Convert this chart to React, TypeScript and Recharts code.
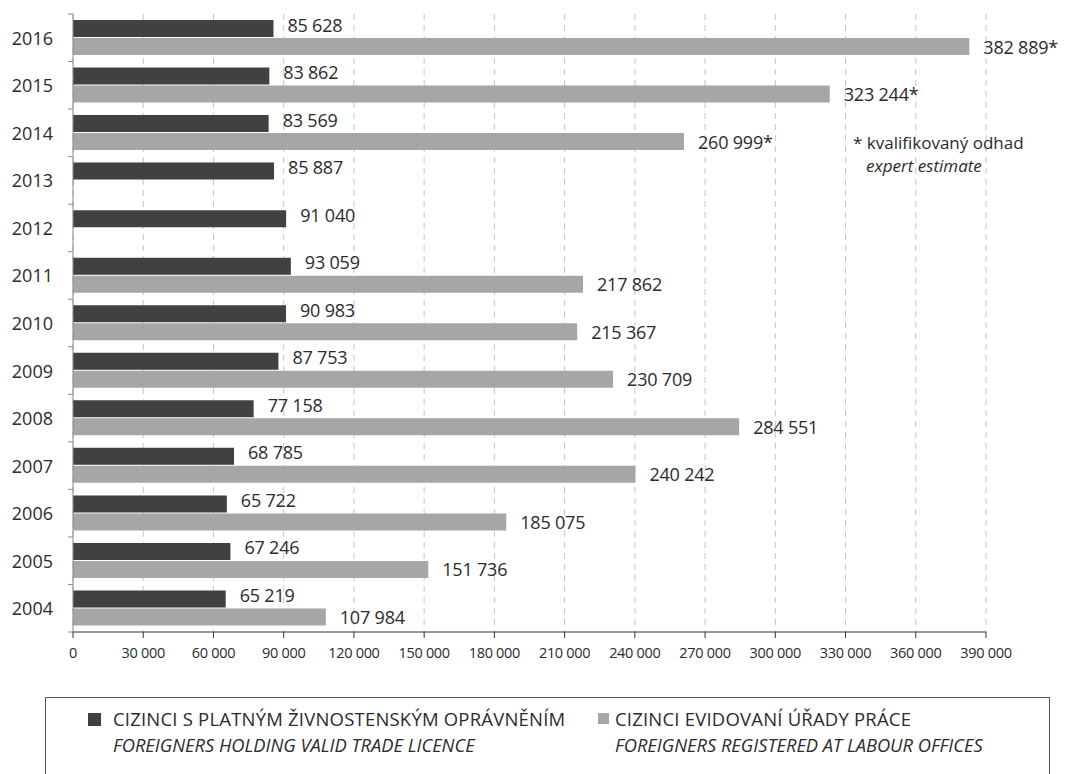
import { BarChart, Bar, XAxis, YAxis, CartesianGrid } from 'recharts'

const years = ['2016', '2015', '2014', '2013', '2012', '2011', '2010', '2009', '2008', '2007', '2006', '2005', '2004']
const tradeLicence = [85628, 83862, 83569, 85887, 91040, 93059, 90983, 87753, 77158, 68785, 65722, 67246, 65219]
const labourOffices = [382889, 323244, 260999, null, null, 217862, 215367, 230709, 284551, 240242, 185075, 151736, 107984]
const estimated = ['2016', '2015', '2014']
const xTicks = [0, 30000, 60000, 90000, 120000, 150000, 180000, 210000, 240000, 270000, 300000, 330000, 360000, 390000]

const DARK = '#414143'
const LIGHT = '#a6a6a8'
const FONT = '"Open Sans", Lato, sans-serif'
const TEXT = '#2b2b2b'

const CHART_W = 1066
const CHART_H = 774
const MARGIN = { top: 14, right: 80, bottom: 102, left: 0 }
const X_AXIS_H = 40
const HALF_BAND = (CHART_H - MARGIN.top - MARGIN.bottom - X_AXIS_H) / years.length / 2

const data = years.map((y, i) => ({
  year: y,
  trade: tradeLicence[i],
  labour: labourOffices[i],
}))

const fmt = (v: number) => (v === 0 ? '0' : v.toLocaleString('en-US').replace(/,/g, ' '))

function makeLabel(dy: number, star: boolean) {
  return (props: any) => {
    const { x, y, width, height, value, index } = props
    if (value == null) return null
    const suffix = star && estimated.includes(years[index]) ? '*' : ''
    return (
      <text
        x={x + width + 14}
        y={y + height / 2 + dy}
        fill={TEXT}
        fontSize={18}
        fontFamily={FONT}
        dominantBaseline="central"
        letterSpacing={-0.2}
      >
        {fmt(value) + suffix}
      </text>
    )
  }
}

// year label plus small tick marks on the band edges, as in the source
function YearTick(props: any) {
  const { x, y, payload, index } = props
  const axisX = x + 20
  return (
    <g>
      <line x1={axisX - 5} x2={axisX} y1={y - HALF_BAND} y2={y - HALF_BAND} stroke="#888" />
      {index === years.length - 1 && (
        <line x1={axisX - 5} x2={axisX} y1={y + HALF_BAND} y2={y + HALF_BAND} stroke="#888" />
      )}
      <text x={x} y={y} textAnchor="end" dominantBaseline="central" fontSize={18} fill={TEXT} fontFamily={FONT}>
        {payload.value}
      </text>
    </g>
  )
}

function LegendBox() {
  const item = (color: string, cz: string, en: string, left: number, square: number, gap: number) => (
    <div style={{ position: 'absolute', left, top: 12 }}>
      <div style={{ position: 'absolute', left: 0, top: 3, width: square, height: square, background: color }} />
      <div style={{ position: 'absolute', left: gap, top: -2, whiteSpace: 'nowrap', fontSize: 18.5, lineHeight: '22px', color: TEXT, letterSpacing: 0.2 }}>{cz}</div>
      <div style={{ position: 'absolute', left: gap, top: 24, whiteSpace: 'nowrap', fontSize: 18.3, lineHeight: '22px', fontStyle: 'italic', color: TEXT }}>{en}</div>
    </div>
  )
  return (
    <div
      style={{
        position: 'absolute',
        left: 45,
        top: 697,
        width: 1005,
        height: 90,
        border: '1.5px solid #555',
        fontFamily: FONT,
        boxSizing: 'border-box',
      }}
    >
      {item(DARK, 'CIZINCI S PLATNÝM ŽIVNOSTENSKÝM OPRÁVNĚNÍM', 'FOREIGNERS HOLDING VALID TRADE LICENCE', 42, 13, 25)}
      {item(LIGHT, 'CIZINCI EVIDOVANÍ ÚŘADY PRÁCE', 'FOREIGNERS REGISTERED AT LABOUR OFFICES', 552, 11, 17)}
    </div>
  )
}

export default function App() {
  return (
    <div style={{ position: 'relative', width: CHART_W, height: CHART_H, background: '#fff', overflow: 'hidden' }}>
      <style>{'body{margin:0}'}</style>
      <BarChart
        width={CHART_W}
        height={CHART_H}
        data={data}
        layout="vertical"
        margin={MARGIN}
        barSize={17}
        barGap={1}
      >
        <CartesianGrid horizontal={false} stroke="#c4c4c4" strokeDasharray="6 5" />
        <XAxis
          type="number"
          domain={[0, 390000]}
          ticks={xTicks}
          tickFormatter={fmt}
          interval={0}
          height={X_AXIS_H}
          stroke="#333"
          tickSize={6}
          tickMargin={10}
          tick={{ fontSize: 14.5, fill: TEXT, fontFamily: FONT, letterSpacing: -0.3 }}
        />
        <YAxis
          type="category"
          dataKey="year"
          width={73}
          stroke="#888"
          tickLine={false}
          tickSize={6}
          tickMargin={14}
          interval={0}
          tick={<YearTick />}
        />
        <Bar dataKey="trade" fill={DARK} isAnimationActive={false} label={makeLabel(-4, false)} />
        <Bar dataKey="labour" fill={LIGHT} isAnimationActive={false} label={makeLabel(0, true)} />
      </BarChart>
      <LegendBox />
      <div style={{ position: 'absolute', left: 853, top: 131, fontFamily: FONT, fontSize: 17, color: TEXT, lineHeight: '23px' }}>
        <div>* kvalifikovaný odhad</div>
        <div style={{ fontStyle: 'italic', paddingLeft: 13 }}>expert estimate</div>
      </div>
    </div>
  )
}
